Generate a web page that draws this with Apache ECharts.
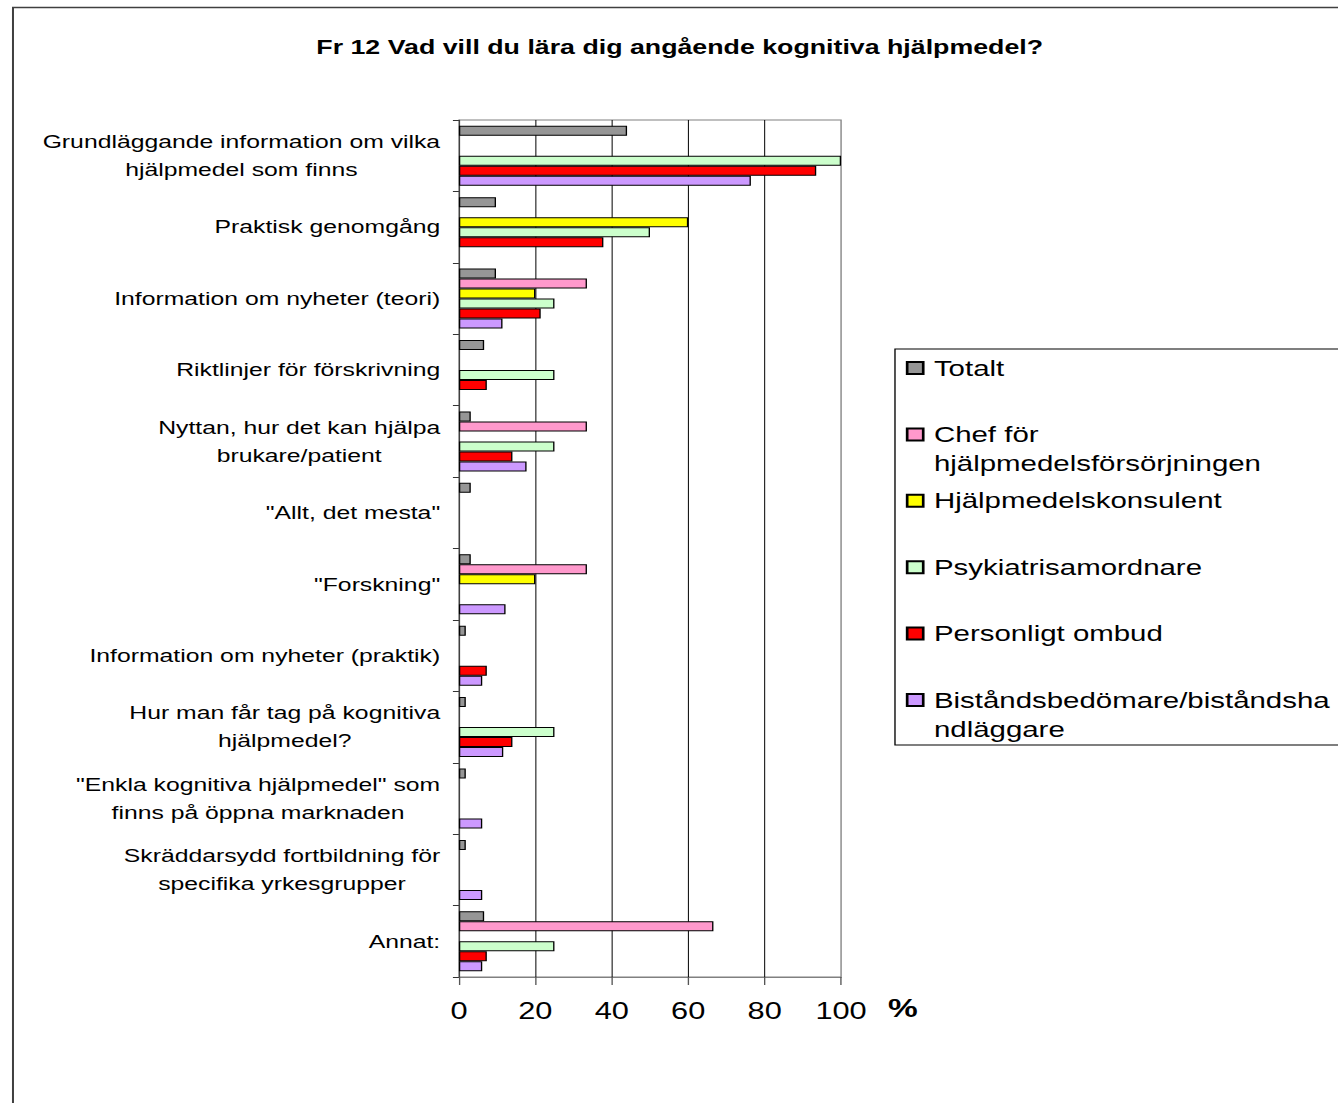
<!DOCTYPE html>
<html>
<head>
<meta charset="utf-8">
<script src="https://cdn.jsdelivr.net/npm/echarts@6/dist/echarts.min.js"></script>
<style>
  html, body { margin: 0; padding: 0; background: #fff; overflow: hidden; }
  /* the source picture is stretched sideways, so the chart is too */
  #chart { width: 1000px; height: 1103px; transform: scaleX(1.338); transform-origin: 0 0; }
</style>
</head>
<body>
<div id="chart"></div>
<script>
const categories = [
  'Grundläggande information om vilka\nhjälpmedel som finns',
  'Praktisk genomgång',
  'Information om nyheter (teori)',
  'Riktlinjer för förskrivning',
  'Nyttan, hur det kan hjälpa\nbrukare/patient',
  '"Allt, det mesta"',
  '"Forskning"',
  'Information om nyheter (praktik)',
  'Hur man får tag på kognitiva\nhjälpmedel?',
  '"Enkla kognitiva hjälpmedel" som\nfinns på öppna marknaden',
  'Skräddarsydd fortbildning för\nspecifika yrkesgrupper',
  'Annat:'
]

const seriesNames = [
  'Totalt',
  'Chef för\nhjälpmedelsförsörjningen',
  'Hjälpmedelskonsulent',
  'Psykiatrisamordnare',
  'Personligt ombud',
  'Biståndsbedömare/biståndsha\nndläggare'
]

const totalt = [44, 9.7, 9.7, 6.6, 3.1, 3.1, 3.1, 1.8, 1.8, 1.8, 1.8, 6.6]
const chef = [null, null, 33.5, null, 33.5, null, 33.5, null, null, null, null, 66.6]
const konsulent = [null, 60, 20, null, null, null, 20, null, null, null, null, null]
const psykiatri = [100, 50, 25, 25, 25, null, null, null, 25, null, null, 25]
const ombud = [93.5, 37.8, 21.4, 7.3, 14, null, null, 7.3, 14, null, null, 7.3]
const bistand = [76.4, null, 11.4, null, 17.7, null, 12.2, 6.1, 11.6, 6.1, 6.1, 6.1]

const xMin = 0
const xMax = 100
const xStep = 20

const colors = ['#969696', '#FF99CC', '#FFFF00', '#CCFFCC', '#FF0000', '#CC99FF']
const font = '"Liberation Sans", Arial, sans-serif'

const seriesData = [totalt, chef, konsulent, psykiatri, ombud, bistand]

const chart = echarts.init(document.getElementById('chart'), null, { renderer: 'svg' })

const lineH = 29
// every legend entry gets the same height (3 lines) so the pitch stays even,
// and the first text line sits beside the marker
const legendData = seriesNames.map(name => ({
  name: name,
  textStyle: {
    backgroundColor: 'rgba(0,0,0,0)',
    padding: name.indexOf('\n') >= 0 ? [0, 0, 0, 3] : [lineH, 0, lineH, 3]
  }
}))

const option = {
  animation: false,
  backgroundColor: '#fff',
  title: {
    text: 'Fr 12 Vad vill du lära dig angående kognitiva hjälpmedel?',
    left: 508,
    textAlign: 'center',
    top: 37,
    padding: 0,
    textStyle: {
      fontFamily: font,
      fontSize: 20,
      fontWeight: 'bold',
      color: '#000',
      lineHeight: 20
    }
  },
  graphic: [
    {
      type: 'rect',
      shape: { x: 9.7, y: 7.5, width: 2000, height: 2000 },
      style: { fill: 'none', stroke: '#404040', lineWidth: 1.5 },
      silent: true
    },
    {
      type: 'rect',
      shape: { x: 668.9, y: 349, width: 600, height: 396 },
      style: { fill: 'none', stroke: '#000', lineWidth: 1 },
      silent: true
    }
  ],
  legend: {
    orient: 'vertical',
    left: 677,
    top: 324.5,
    padding: 0,
    itemGap: -20.6,
    itemWidth: 12,
    itemHeight: 12,
    icon: 'rect',
    selectedMode: false,
    data: legendData,
    formatter: name => name.indexOf('\n') >= 0 ? '\n' + name : name,
    textStyle: {
      fontFamily: font,
      fontSize: 22,
      color: '#000',
      lineHeight: lineH
    }
  },
  grid: {
    left: 343,
    top: 120,
    width: 285.6,
    height: 857,
    show: true,
    borderColor: '#808080',
    borderWidth: 1,
    containLabel: false
  },
  xAxis: {
    type: 'value',
    min: xMin,
    max: xMax,
    interval: xStep,
    name: '%',
    nameLocation: 'end',
    nameGap: 35,
    nameTextStyle: {
      fontFamily: font,
      fontSize: 25,
      fontWeight: 'bold',
      color: '#000',
      verticalAlign: 'top',
      padding: [19, 0, 0, 0]
    },
    axisLine: { show: true, lineStyle: { color: '#808080', width: 1 } },
    axisTick: { show: true, length: 8, lineStyle: { color: '#555' } },
    axisLabel: {
      margin: 22,
      fontFamily: font,
      fontSize: 23,
      color: '#000'
    },
    splitLine: {
      show: true,
      showMinLine: false,
      showMaxLine: false,
      lineStyle: { color: '#000', width: 0.75 }
    }
  },
  yAxis: {
    type: 'category',
    inverse: true,
    data: categories,
    axisLine: { show: true, lineStyle: { color: '#333', width: 0.75 } },
    axisTick: { show: true, length: 4.5, lineStyle: { color: '#333' } },
    axisLabel: {
      interval: 0,
      margin: 14,
      fontFamily: font,
      fontSize: 18.5,
      color: '#000',
      lineHeight: 28,
      formatter: v => v.split('\n').map(s => '{c|' + s + '}').join('\n'),
      rich: {
        c: {
          align: 'center',
          fontFamily: font,
          fontSize: 18.5,
          color: '#000',
          lineHeight: 28
        }
      }
    }
  },
  series: seriesNames.map((name, i) => ({
    name: name,
    type: 'bar',
    data: seriesData[i],
    barWidth: 10,
    barGap: '0%',
    itemStyle: {
      color: colors[i],
      borderColor: '#000',
      borderWidth: 1
    },
    emphasis: { disabled: true }
  }))
}

chart.setOption(option)
</script>
</body>
</html>
